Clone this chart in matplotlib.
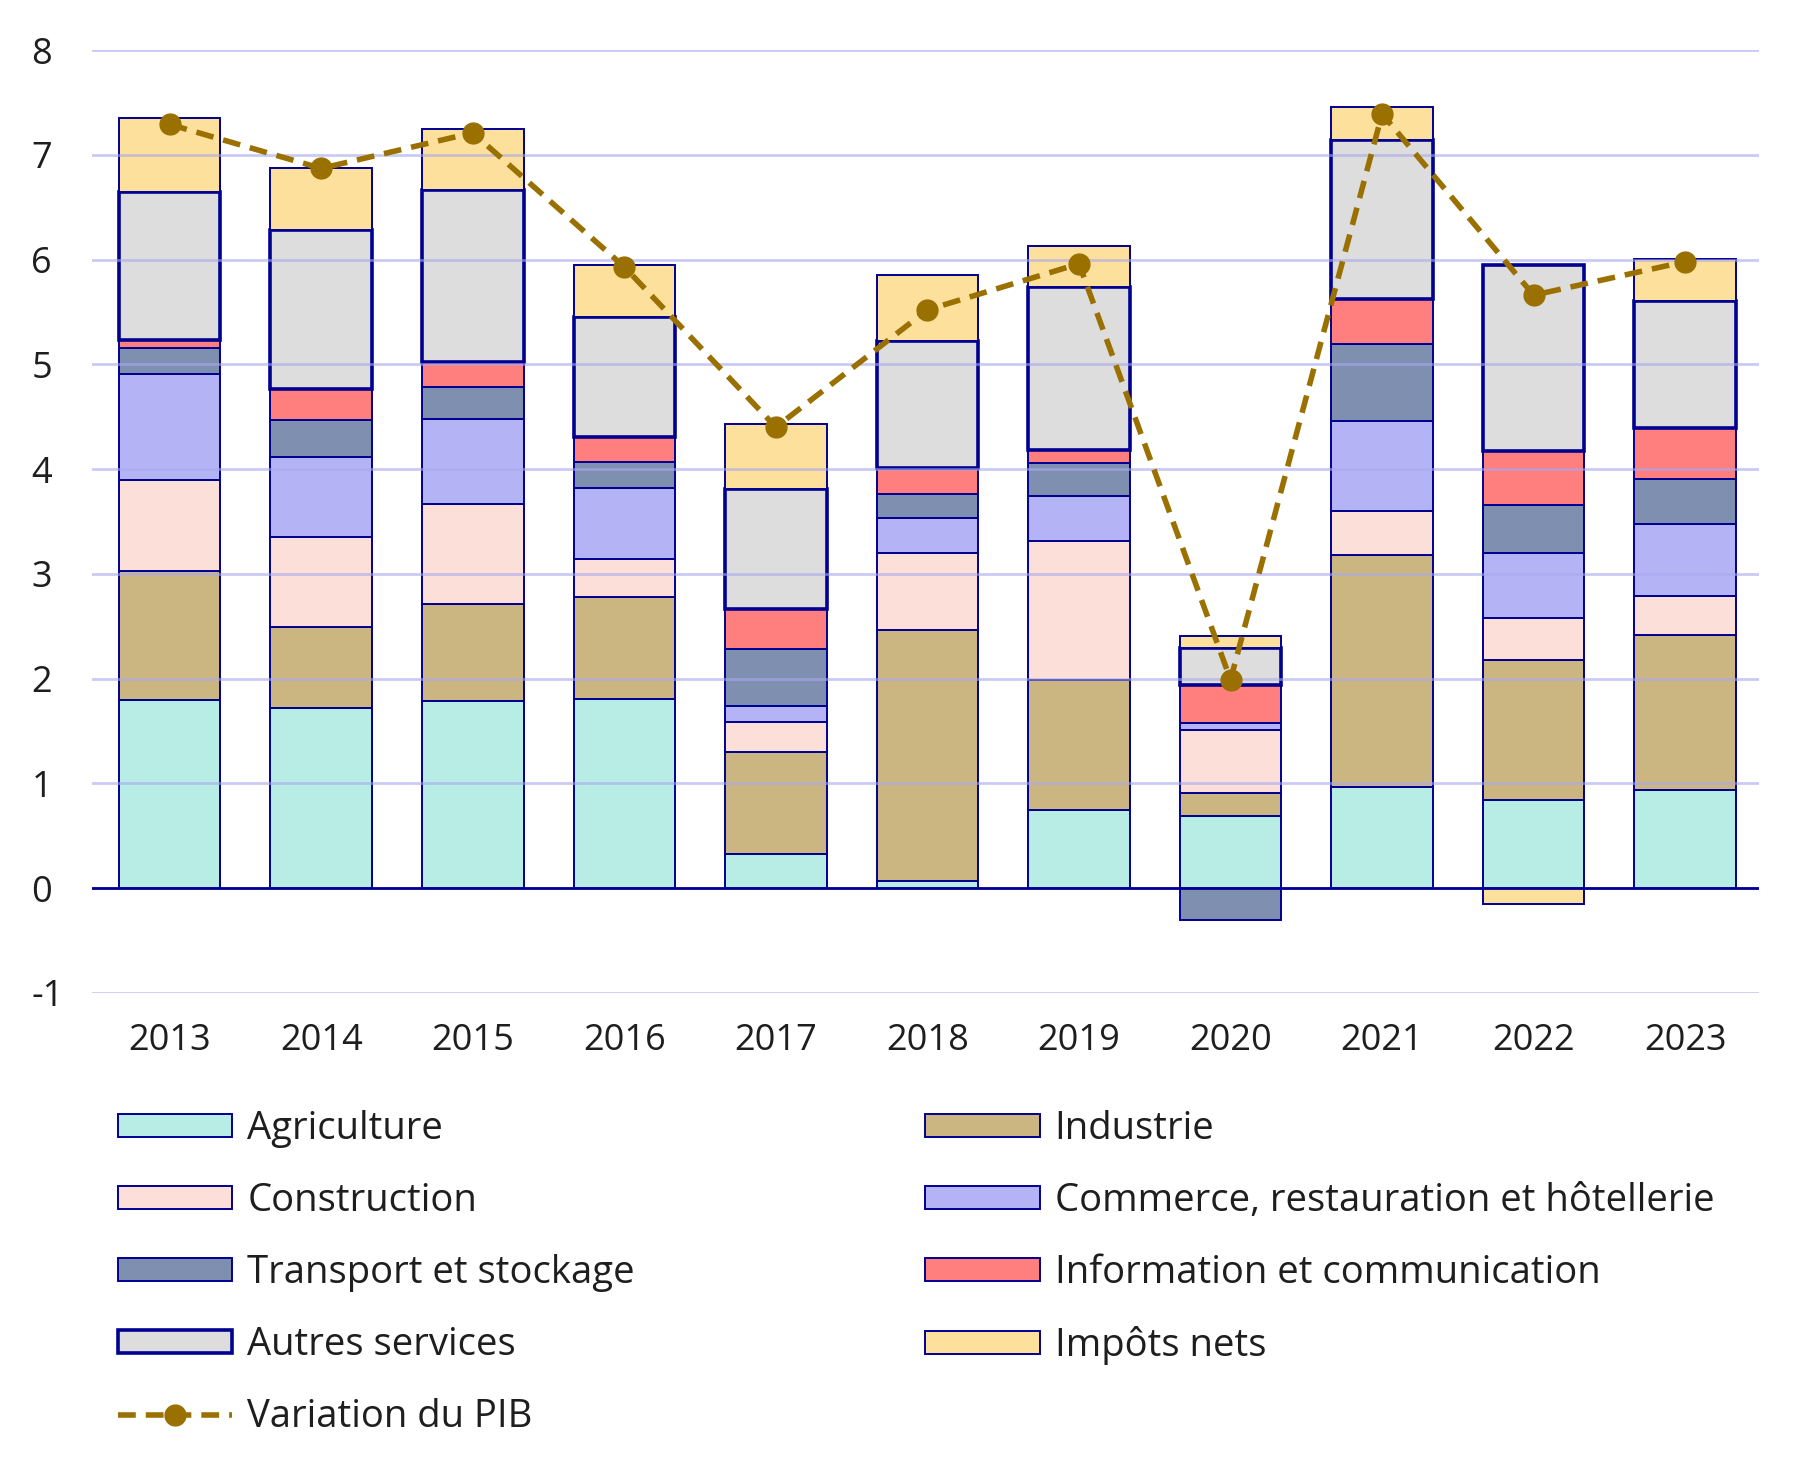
import numpy as np
import matplotlib
matplotlib.use('Agg')
import matplotlib.pyplot as plt

plt.rcParams['font.family'] = ['Open Sans', 'DejaVu Sans']
plt.rcParams['axes.unicode_minus'] = False

years = ['2013', '2014', '2015', '2016', '2017', '2018', '2019', '2020', '2021', '2022', '2023']

agriculture = [1.80, 1.72, 1.79, 1.81, 0.33, 0.07, 0.75, 0.69, 0.97, 0.84, 0.94]
industrie = [1.23, 0.77, 0.92, 0.97, 0.97, 2.39, 1.24, 0.22, 2.21, 1.34, 1.48]
construction = [0.87, 0.86, 0.96, 0.36, 0.29, 0.74, 1.32, 0.60, 0.42, 0.40, 0.37]
commerce = [1.01, 0.77, 0.81, 0.68, 0.15, 0.33, 0.43, 0.07, 0.86, 0.62, 0.69]
transport = [0.25, 0.35, 0.30, 0.25, 0.54, 0.23, 0.32, -0.30, 0.73, 0.46, 0.43]
information = [0.07, 0.29, 0.24, 0.24, 0.38, 0.25, 0.12, 0.36, 0.43, 0.51, 0.48]
autres = [1.41, 1.52, 1.64, 1.14, 1.15, 1.21, 1.56, 0.35, 1.52, 1.78, 1.21]
impots = [0.71, 0.59, 0.59, 0.50, 0.62, 0.63, 0.39, 0.12, 0.32, -0.15, 0.41]
pib = [7.29, 6.87, 7.21, 5.93, 4.40, 5.52, 5.96, 1.99, 7.39, 5.66, 5.98]

series = [
    ('Agriculture', agriculture, '#b8ede6'),
    ('Industrie', industrie, '#cbb682'),
    ('Construction', construction, '#fcdfd9'),
    ('Commerce, restauration et hôtellerie', commerce, '#b3b3f5'),
    ('Transport et stockage', transport, '#7f8fb0'),
    ('Information et communication', information, '#ff7f7f'),
    ('Autres services', autres, '#dddddd'),
    ('Impôts nets', impots, '#fce09b'),
]

navy = '#000091'
fig = plt.figure(figsize=(18.12, 14.71), dpi=100)
ax = fig.add_axes([0.051, 0.325, 0.920, 0.641])

x = np.arange(len(years))
pos = np.zeros(len(years))
neg = np.zeros(len(years))
handles = {}
for name, vals, color in series:
    vals = np.array(vals)
    bottom = np.where(vals >= 0, pos, neg)
    lw = 2.6 if name == 'Autres services' else 1.4
    b = ax.bar(x, vals, 0.67, bottom=bottom, color=color, edgecolor=navy,
               linewidth=lw, zorder=2, label=name)
    handles[name] = b
    pos = pos + np.where(vals >= 0, vals, 0)
    neg = neg + np.where(vals < 0, vals, 0)

line, = ax.plot(x, pib, color='#9a7000', linestyle=(0, (3.2, 1.8)), linewidth=4,
                marker='o', markersize=15, zorder=5, label='Variation du PIB')

ax.axhline(0, color=navy, linewidth=2, zorder=4)
ax.set_ylim(-1, 8)
ax.set_xlim(-0.51, 10.49)
ax.set_yticks(range(-1, 9))
# grid drawn over the bars, semi transparent like the original
ax.grid(axis='y', color='#a8a8f0', linewidth=2, alpha=0.6, zorder=3)
ax.set_axisbelow(False)
for s in ax.spines.values():
    s.set_visible(False)
ax.set_xticks(x)
ax.set_xticklabels(years)
ax.tick_params(axis='both', length=0, labelsize=26, colors='#1e1e1e')
ax.tick_params(axis='x', pad=22)
ax.tick_params(axis='y', pad=44)
for t in ax.get_yticklabels():
    t.set_horizontalalignment('left')

order = ['Agriculture', 'Construction', 'Transport et stockage', 'Autres services',
         None, 'Industrie', 'Commerce, restauration et hôtellerie',
         'Information et communication', 'Impôts nets']
h = []
labels = []
for n in order:
    if n is None:
        h.append(line)
        labels.append('Variation du PIB')
    else:
        h.append(handles[n])
        labels.append(n)

fig.legend(h, labels, loc='upper left', bbox_to_anchor=(0.0565, 0.2557), ncol=2,
           frameon=False, fontsize=27.5, handlelength=3.0, handleheight=0.52,
           labelspacing=0.89, columnspacing=7.6, handletextpad=0.39,
           borderaxespad=0, labelcolor='#1e1e1e')

fig.savefig('out.png', dpi=100)
